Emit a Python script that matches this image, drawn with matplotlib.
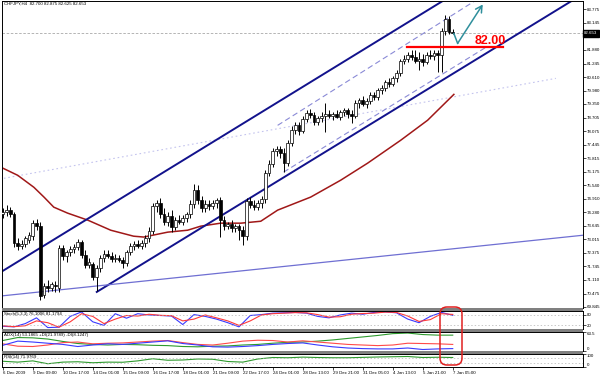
import matplotlib.pyplot as plt
from matplotlib.patches import FancyBboxPatch, Rectangle
from matplotlib.transforms import IdentityTransform
import numpy as np

small = ['Liberation Sans', 'DejaVu Sans']
plt.rcParams['font.family'] = small

title = "CHFJPY,H4  82.700 82.875 82.625 82.653"

# H4 candles, one per bar
opens = [
    74.19, 74.28, 74.38, 74.19, 72.84, 72.70, 72.79, 72.98, 73.16, 73.77,
    73.63, 70.40, 70.83, 70.73, 70.87, 70.73, 72.60, 72.23, 72.41, 72.56,
    72.65, 72.88, 72.27, 71.81, 71.85, 71.25, 71.67, 72.13, 72.32, 72.23,
    72.09, 72.13, 72.04, 71.90, 72.41, 72.70, 72.79, 72.70, 72.84, 73.07,
    73.40, 74.57, 74.71, 74.19, 73.82, 74.10, 73.58, 73.91, 73.82, 74.00,
    74.19, 74.66, 75.31, 74.85, 74.47, 74.66, 74.57, 74.71, 74.85, 73.91,
    73.63, 73.72, 73.54, 73.63, 73.44, 73.16, 74.80, 74.61, 74.52, 74.71,
    74.89, 76.11, 76.53, 77.14, 77.23, 77.04, 76.58, 77.51, 78.12, 78.35,
    78.07, 78.63, 78.91, 78.82, 78.49, 78.68, 78.77, 78.87, 78.77, 78.87,
    78.73, 78.96, 79.05, 78.87, 78.77, 79.38, 79.52, 79.33, 79.47, 79.75,
    79.66, 79.99, 80.08, 80.36, 80.27, 80.55, 80.78, 81.34, 81.48, 81.63,
    81.53, 81.34, 81.48, 81.30, 81.63, 81.58, 81.72, 81.63, 82.75, 83.35,
    82.70]
highs = [
    74.47, 74.61, 74.52, 74.28, 73.07, 72.98, 73.16, 73.35, 73.91, 73.96,
    73.82, 70.97, 71.11, 71.01, 71.06, 72.74, 72.74, 72.51, 72.70, 72.79,
    73.02, 72.98, 72.51, 72.13, 71.95, 71.81, 72.27, 72.51, 72.51, 72.41,
    72.32, 72.27, 72.18, 72.51, 72.84, 72.93, 72.98, 72.98, 73.21, 73.58,
    74.71, 74.85, 74.94, 74.47, 74.28, 74.38, 74.05, 74.14, 74.14, 74.28,
    74.85, 75.60, 75.55, 75.03, 74.85, 74.85, 74.85, 74.94, 74.99, 74.10,
    73.82, 73.91, 73.72, 73.72, 73.63, 74.94, 74.99, 74.85, 74.85, 75.03,
    76.25, 76.72, 77.28, 77.37, 77.37, 77.28, 77.65, 78.31, 78.49, 78.49,
    78.77, 79.05, 79.10, 78.96, 78.77, 78.96, 79.38, 79.05, 78.96, 79.05,
    79.05, 79.15, 79.15, 79.05, 79.52, 79.61, 79.71, 79.61, 79.89, 79.89,
    80.08, 80.22, 80.46, 80.55, 80.64, 80.92, 81.48, 81.63, 81.77, 81.86,
    81.86, 81.77, 81.67, 81.77, 81.86, 81.86, 81.86, 82.89, 83.50, 83.45,
    82.875]
lows = [
    74.00, 74.10, 74.05, 72.65, 72.51, 72.56, 72.65, 72.84, 72.98, 73.44,
    70.17, 70.26, 70.55, 70.59, 70.55, 70.55, 72.04, 71.95, 72.23, 72.37,
    72.51, 72.13, 71.67, 71.67, 71.11, 70.59, 71.48, 71.95, 72.13, 71.95,
    71.95, 71.95, 71.67, 71.76, 72.27, 72.51, 72.60, 72.56, 72.65, 72.88,
    73.26, 74.28, 74.00, 73.68, 73.63, 73.35, 73.44, 73.72, 73.68, 73.82,
    74.00, 74.47, 74.66, 74.28, 74.28, 74.38, 74.42, 74.47, 73.12, 73.44,
    73.49, 73.35, 73.35, 72.98, 72.74, 72.98, 74.47, 74.38, 74.38, 74.47,
    74.71, 75.97, 76.39, 76.90, 76.81, 76.16, 76.44, 77.37, 77.93, 77.88,
    77.98, 78.49, 78.68, 78.35, 78.35, 78.49, 78.02, 78.68, 78.59, 78.68,
    78.59, 78.77, 78.68, 78.45, 78.68, 79.15, 79.24, 79.15, 79.33, 79.52,
    79.52, 79.80, 79.94, 80.13, 80.18, 80.36, 80.64, 81.20, 81.30, 81.39,
    81.25, 80.92, 81.11, 81.20, 81.48, 81.39, 80.83, 80.83, 82.56, 82.65,
    82.625]
closes = [
    74.28, 74.38, 74.19, 72.84, 72.70, 72.79, 73.07, 73.21, 73.77, 73.63,
    70.36, 70.83, 70.73, 70.92, 70.83, 72.60, 72.23, 72.41, 72.56, 72.65,
    72.88, 72.27, 71.81, 71.95, 71.25, 71.67, 72.13, 72.32, 72.23, 72.09,
    72.13, 72.04, 71.90, 72.41, 72.70, 72.79, 72.70, 72.84, 73.07, 73.40,
    74.57, 74.71, 74.19, 73.82, 74.10, 73.58, 73.91, 73.82, 74.00, 74.19,
    74.66, 75.31, 74.85, 74.47, 74.66, 74.57, 74.71, 74.85, 73.91, 73.63,
    73.72, 73.54, 73.63, 73.44, 73.16, 74.80, 74.61, 74.52, 74.71, 74.89,
    76.11, 76.53, 77.14, 77.23, 77.04, 76.58, 77.51, 78.12, 78.35, 78.07,
    78.63, 78.91, 78.82, 78.49, 78.68, 78.77, 78.87, 78.77, 78.87, 78.73,
    78.96, 79.05, 78.87, 78.77, 79.38, 79.52, 79.33, 79.47, 79.75, 79.66,
    79.99, 80.08, 80.36, 80.27, 80.55, 80.78, 81.34, 81.48, 81.63, 81.53,
    81.34, 81.48, 81.30, 81.63, 81.58, 81.72, 81.63, 82.75, 83.35, 82.70,
    82.653]

time_labels = ["6 Dec 2009", "9 Dec 09:00", "10 Dec 17:00", "14 Dec 01:00",
               "15 Dec 09:00", "16 Dec 17:00", "18 Dec 01:00", "21 Dec 09:00",
               "22 Dec 17:00", "24 Dec 01:00", "28 Dec 13:00", "29 Dec 21:00",
               "31 Dec 05:00", "4 Jan 13:00", "5 Jan 21:00", "7 Jan 05:00"]

price_ticks = [83.775, 83.145, 82.510, 81.880, 81.245, 80.610, 79.980, 79.350,
               78.705, 78.075, 77.445, 76.815, 76.175, 75.540, 74.910, 74.280,
               73.645, 73.015, 72.375, 71.745, 71.110, 70.475, 69.845]
last_price = 82.653

# moving average
ma_bar = [-0.5, 4, 8.3, 11, 13.6, 17.3, 22.7, 28.8, 34.9, 37.6, 44, 49.3,
          52.8, 58.1, 63.5, 68.8, 73.3, 82.1, 90.1, 97.3, 106.1, 113.3, 120.3]
ma_val = [76.39, 76.01, 75.45, 74.99, 74.52, 74.24, 73.91, 73.44, 73.16,
          73.12, 73.35, 73.44, 73.63, 73.77, 73.77, 73.86, 74.38, 74.99,
          75.78, 76.58, 77.65, 78.59, 79.80]

# drawn objects (bar, price)
chan_upper = ([-0.5, 125.0], [71.48, 85.00])
chan_lower = ([25.07, 155.0], [70.55, 84.53])
dash_upper = ([73.3, 126.1], [78.35, 84.20])
dash_lower = ([74.9, 128.8], [76.16, 82.00])
faint_line = ([0.3, 147.5], [75.87, 80.55])
slate_line = ([-0.5, 155.0], [70.36, 73.21])
level_bar = [107.7, 133.3]
level_price = 82.00
arrow_bar = [120.3, 121.3, 128.0]
arrow_price = [82.65, 82.19, 84.01]

# indicators
stoch_bar = list(range(0, 121, 3))
stoch_k = [15, 12, 30, 62, 8, 10, 70, 95, 40, 20, 85, 60, 85, 78, 75, 72, 25,
           80, 70, 55, 35, 12, 75, 80, 88, 90, 92, 88, 70, 62, 78, 88, 82, 92,
           95, 90, 55, 35, 70, 92, 76]
stoch_d = [18, 13, 18, 45, 35, 10, 40, 85, 70, 30, 55, 75, 72, 82, 76, 74, 45,
           55, 78, 62, 45, 20, 45, 78, 85, 88, 91, 90, 80, 66, 68, 82, 86, 88,
           94, 92, 72, 42, 52, 85, 81]
ind_bar = list(range(0, 121, 4))
adx_main = [35, 45, 44, 40, 32, 25, 22, 20, 22, 21, 19, 18, 15, 14, 16, 17, 20,
            22, 26, 29, 30, 33, 37, 42, 47, 52, 58, 60, 55, 53, 53]
adx_plus = [24, 16, 15, 20, 28, 30, 24, 26, 27, 30, 33, 35, 28, 22, 20, 26, 33,
            36, 35, 30, 34, 30, 26, 22, 20, 18, 20, 26, 25, 24, 22]
adx_minus = [19, 33, 30, 26, 22, 15, 20, 24, 22, 26, 30, 34, 25, 20, 14, 13, 15,
             18, 22, 25, 27, 20, 14, 10, 8, 7, 7, 10, 5, 7, 8]
rsi = [42, 35, 45, 22, 35, 38, 30, 35, 34, 45, 62, 50, 52, 60, 58, 40, 35, 60,
       72, 70, 75, 72, 70, 70, 73, 76, 78, 80, 72, 74, 72]

W, H = 600, 376
fig = plt.figure(figsize=(W / 100, H / 100), dpi=100)
fig.patch.set_facecolor('white')

left, right = 2, 583
x0, x1 = -0.2, -0.2 + (right - left) / 3.75
fs = 3.2


def panel(top, bottom):
	a = fig.add_axes([left / W, 1 - bottom / H, (right - left) / W, (bottom - top) / H])
	a.set_xlim(x0, x1)
	a.yaxis.tick_right()
	a.tick_params(axis='y', labelsize=fs, length=2, width=0.5, pad=0.6, direction='out')
	a.tick_params(axis='x', bottom=False, labelbottom=False)
	for s in a.spines.values():
		s.set_linewidth(0.7)
	return a


def edge_labels(a):
	# keep the top and bottom labels inside their own window
	labels = a.get_yticklabels()
	labels[0].set_va('top')
	labels[-1].set_va('bottom')


ax = panel(0.5, 308)
ax_st = panel(311, 329)
ax_adx = panel(332, 351)
ax_rsi = panel(354, 366.5)

# candles
x = np.arange(len(opens))
o, h, l, c = map(np.array, (opens, highs, lows, closes))
up = c >= o
ax.vlines(x, l, h, color='black', lw=0.7, zorder=3)
ax.bar(x, np.maximum(np.abs(c - o), 0.005), bottom=np.minimum(o, c), width=0.7,
       color=np.where(up, 'white', 'black'), edgecolor='black', lw=0.5, zorder=4)

ax.plot(ma_bar, ma_val, color='#a01818', lw=1.1, zorder=2)
ax.plot(*chan_upper, color='#12128c', lw=1.4, zorder=2)
ax.plot(*chan_lower, color='#12128c', lw=1.4, zorder=2)
ax.plot(*dash_upper, color='#8a8ad6', lw=0.8, ls=(0, (5, 3)), zorder=2)
ax.plot(*dash_lower, color='#8a8ad6', lw=0.8, ls=(0, (5, 3)), zorder=2)
ax.plot(*faint_line, color='#c4c4ee', lw=0.8, ls=(0, (1.5, 2.5)), zorder=1)
ax.plot(*slate_line, color='#6f6fd2', lw=0.9, zorder=2)
ax.axhline(last_price, color='#a8a8a8', lw=0.6, ls=(0, (3, 2)), zorder=1)

ax.plot(level_bar, [level_price] * 2, color='red', lw=1.6, zorder=5)
ax.text(125.8, level_price + 0.03, f"{level_price:.2f}", color='red', fontsize=9,
        fontweight='bold', ha='left', va='bottom', zorder=6)

teal = '#2f8f9c'
ax.plot(arrow_bar[:2], arrow_price[:2], color=teal, lw=1.1, zorder=6)
ax.annotate('', xy=(arrow_bar[2], arrow_price[2]), xytext=(arrow_bar[1], arrow_price[1]),
            arrowprops=dict(arrowstyle='->,head_length=0.45,head_width=0.25', color=teal,
                            lw=1.1, shrinkA=0, shrinkB=0), zorder=6, annotation_clip=False)

ax.set_ylim(69.798, 84.196)
ax.set_yticks(price_ticks)
ax.set_yticklabels([f"{t:.3f}" for t in price_ticks])
ax.text(1.002, last_price, f"{last_price:.3f}", transform=ax.get_yaxis_transform(),
        ha='left', va='center', fontsize=fs, color='white', zorder=10, clip_on=False,
        bbox=dict(boxstyle='square,pad=0.3', fc='black', ec='black'))
ax.text(0.003, 0.997, title, transform=ax.transAxes, fontsize=fs, va='top', ha='left')

# stochastic
ax_st.plot(stoch_bar, stoch_k, color='#3a3aff', lw=0.8)
ax_st.plot(stoch_bar, stoch_d, color='#ff3a3a', lw=0.8)
for lv in (80, 20):
	ax_st.axhline(lv, color='#b0b0b0', lw=0.5, ls=(0, (2, 3)))
ax_st.set_ylim(0, 100)
ax_st.set_yticks([80, 20])
ax_st.text(0.003, 0.95, "Stoch(5,3,3) 76.1006 81.1794",
           transform=ax_st.transAxes, fontsize=fs, va='top')

# ADX
ax_adx.plot(ind_bar, adx_main, color='#2e9a2e', lw=0.8)
ax_adx.plot(ind_bar, adx_plus, color='#ff4a4a', lw=0.8)
ax_adx.plot(ind_bar, adx_minus, color='#3a3aff', lw=0.8)
ax_adx.set_ylim(0, 63.5)
ax_adx.set_yticks([63.5, 0])
ax_adx.set_yticklabels(["63.5", "0"])
edge_labels(ax_adx)
ax_adx.text(0.003, 0.95, "ADX(14) 53.1865 +DI(21.9789) -DI(8.1247)",
            transform=ax_adx.transAxes, fontsize=fs, va='top')

# RSI
ax_rsi.plot(ind_bar, rsi, color='#2e9a2e', lw=0.8)
for lv in (70, 30):
	ax_rsi.axhline(lv, color='#b0b0b0', lw=0.5, ls=(0, (2, 3)))
ax_rsi.set_ylim(0, 100)
ax_rsi.set_yticks([100, 0])
edge_labels(ax_rsi)
ax_rsi.text(0.003, 0.95, "RSI(14) 71.9769", transform=ax_rsi.transAxes, fontsize=fs, va='top')

ax_rsi.tick_params(axis='x', bottom=True, labelbottom=True, length=2, width=0.5,
                   labelsize=fs, pad=1)
ax_rsi.set_xticks(range(0, 8 * len(time_labels), 8))
ax_rsi.set_xticklabels(time_labels, ha='left')

# separators between windows
for top in (308, 329, 351):
	fig.add_artist(Rectangle((left, H - top - 3), right - left, 3, transform=IdentityTransform(),
	                         color='#808080', lw=0))

# red rounded box around the last bars of the indicators
fig.add_artist(FancyBboxPatch((440, H - 365), 22, 58, boxstyle='round,pad=0,rounding_size=7',
                              transform=IdentityTransform(), fill=False, ec='#e02020', lw=1.1))

fig.savefig('out.png', dpi=100)
